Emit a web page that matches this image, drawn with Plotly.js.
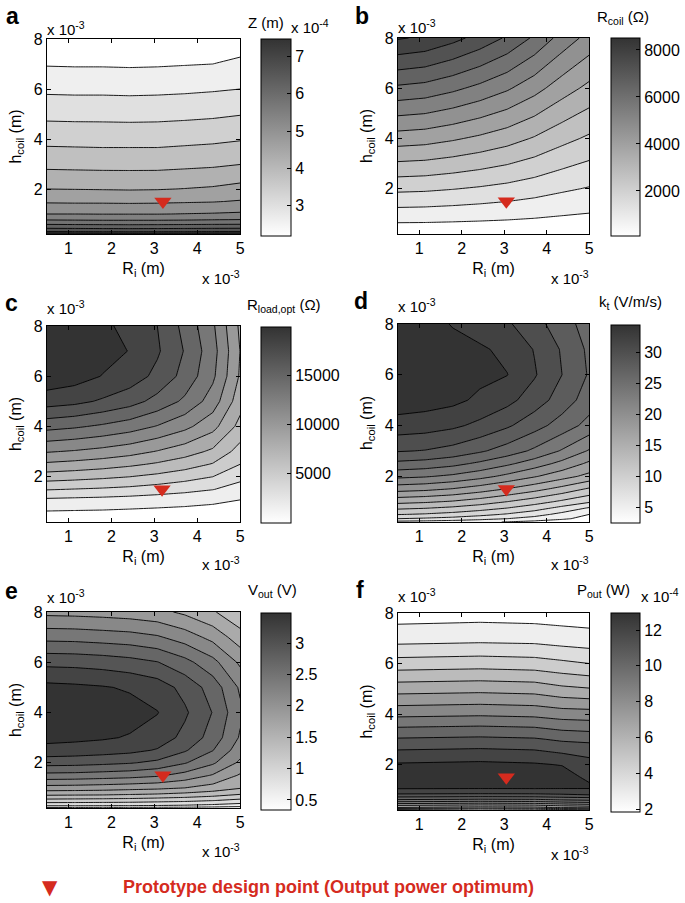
<!DOCTYPE html>
<html><head><meta charset="utf-8">
<script src="https://cdn.plot.ly/plotly-3.0.1.min.js"></script>
<style>html,body{margin:0;padding:0;background:#fff}#plot{width:685px;height:903px}</style>
</head><body><div id="plot"></div>
<script>
// ---------- data (Ri and h in units of 1e-3 m) ----------
const riGrid = [0.5, 1.14, 1.79, 2.43, 3.07, 3.71, 4.36, 5];
const riGridF = [0.5, 2.43, 3.71, 4.36, 5];

// a: Z (x 1e-4 m)
const hGridA = [0.2, 0.3, 0.5, 0.75, 1, 1.5, 2, 3, 4, 5, 6, 7, 8];
const zA = [
  [7.47,7.45,7.42,7.40,7.41,7.43,7.45,7.47],
  [6.77,6.75,6.73,6.72,6.73,6.74,6.76,6.77],
  [6.19,6.18,6.17,6.16,6.17,6.18,6.19,6.20],
  [5.62,5.61,5.60,5.60,5.60,5.61,5.63,5.64],
  [5.20,5.20,5.19,5.19,5.19,5.21,5.23,5.26],
  [4.75,4.74,4.74,4.73,4.74,4.76,4.78,4.83],
  [4.40,4.39,4.38,4.37,4.38,4.41,4.45,4.53],
  [3.89,3.88,3.87,3.87,3.87,3.90,3.93,3.99],
  [3.48,3.47,3.46,3.46,3.46,3.49,3.52,3.57],
  [3.09,3.08,3.08,3.07,3.08,3.10,3.13,3.18],
  [2.72,2.71,2.71,2.70,2.71,2.73,2.76,2.80],
  [2.37,2.36,2.36,2.35,2.36,2.38,2.40,2.45],
  [2.22,2.22,2.21,2.21,2.21,2.22,2.24,2.27]
];

// b: R_coil (Ohm)
const hGridB = [0.2, 2, 4, 6, 8];
const zB = [
  [170,170,165,160,155,150,140,135],
  [2095,2059,1974,1871,1749,1589,1401,1251],
  [4233,4159,3984,3771,3519,3189,2801,2491],
  [6371,6259,5994,5671,5289,4789,4201,3731],
  [8509,8359,8004,7571,7059,6389,5601,4971]
];

// c: R_load,opt (Ohm)
const hGridC = [0.2, 0.64, 1.14, 1.5, 2, 2.5, 3, 4, 5, 6, 7, 8];
const zC = [
  [100,95,90,85,80,80,80,80],
  [1510,1450,1400,1300,1200,1100,950,750],
  [3000,2900,2800,2650,2450,2250,2000,1600],
  [4600,4450,4300,4100,3800,3450,3050,2400],
  [6750,6550,6300,6000,5600,5100,4500,3400],
  [8740,8500,8200,7800,7300,6700,5900,4500],
  [10600,10350,10000,9550,8900,8150,7200,5400],
  [14000,13700,13250,12700,11900,10900,9500,7000],
  [17200,16900,16300,15600,14500,13200,11300,8100],
  [19000,18650,17950,17300,16100,14500,12300,8800],
  [19450,19150,18500,17950,16700,14900,12600,8950],
  [19300,19000,18400,17450,16500,14550,12250,8700]
];

// d: k_t (V/m/s)
const hGridD = [0.2, 0.33, 0.5, 0.75, 1, 1.5, 2, 2.5, 3, 4, 5, 6, 7, 8];
const zD = [
  [5.3,5.1,4.8,4.4,3.9,3.4,2.9,2.5],
  [8,7.7,7.3,6.7,6.0,5.2,4.3,3.4],
  [10.1,9.8,9.3,8.6,7.8,6.8,5.4,4.0],
  [12.4,12.1,11.6,10.9,10.0,8.9,7.4,5.8],
  [14.6,14.3,13.8,13.0,12.0,10.9,9.6,8.3],
  [18.8,18.5,17.9,17.0,15.9,14.7,13.3,11.7],
  [22.5,22.2,21.6,20.7,19.5,18.2,16.8,15.4],
  [25.5,25.2,24.6,23.6,22.4,21.0,19.4,17.6],
  [28.15,27.9,27.3,26.3,25.1,23.6,21.8,19.8],
  [31.1,30.9,30.4,29.5,28.3,26.8,25.1,23.3],
  [33.2,32.9,32.5,31.6,30.6,29.0,27.1,25.0],
  [34.3,34.0,33.2,32.5,32.05,30.2,28.0,25.8],
  [34.5,34.2,33.1,32.3,31.5,29.9,27.8,25.6],
  [34.0,33.3,31.8,31.0,30.3,28.7,27.0,25.0]
];

// e: V_out (V)
const hGridE = [0.2, 0.3, 0.5, 0.75, 1, 1.5, 2, 2.5, 3, 4, 5, 6, 7, 8];
const zE = [
  [0.42,0.42,0.41,0.41,0.40,0.39,0.37,0.34],
  [0.79,0.79,0.78,0.77,0.75,0.73,0.69,0.63],
  [1.16,1.15,1.14,1.13,1.10,1.07,1.01,0.93],
  [1.57,1.56,1.55,1.52,1.49,1.44,1.37,1.26],
  [1.90,1.89,1.87,1.84,1.81,1.75,1.65,1.52],
  [2.42,2.41,2.38,2.35,2.29,2.16,1.98,1.72],
  [2.85,2.84,2.81,2.77,2.69,2.52,2.29,1.95],
  [3.16,3.14,3.11,3.07,2.98,2.78,2.51,2.11],
  [3.33,3.31,3.28,3.23,3.14,2.93,2.65,2.22],
  [3.45,3.43,3.40,3.35,3.26,3.04,2.74,2.30],
  [3.32,3.30,3.27,3.22,3.13,2.92,2.64,2.21],
  [2.93,2.92,2.89,2.84,2.76,2.58,2.33,1.95],
  [2.42,2.41,2.38,2.35,2.28,2.13,1.92,1.61],
  [1.93,1.92,1.90,1.87,1.82,1.70,1.53,1.29]
];

// f: P_out (x 1e-4 W)
const hGridF = [0.2, 0.3, 0.4, 0.5, 0.6, 0.75, 0.9, 1.2, 1.5, 2, 2.5, 3, 3.5, 4, 5, 6, 7, 8];
const zF = [
  [3.6,3.2,3.4,3.7,3.9],
  [5.9,5.6,5.7,6.0,6.2],
  [7.0,6.8,6.9,7.2,7.4],
  [8.3,8.1,8.2,8.45,8.6],
  [9.4,9.25,9.3,9.5,9.65],
  [10.7,10.6,10.65,10.8,10.9],
  [11.75,11.7,11.72,11.8,12.1],
  [12.7,12.7,12.7,12.6,12.3],
  [12.9,12.95,12.9,12.7,11.95],
  [12.3,12.4,12.3,12.15,11.6],
  [11.45,11.55,11.45,11.2,11.05],
  [10.5,10.6,10.5,10.25,10.15],
  [9.45,9.55,9.45,9.2,9.1],
  [8.35,8.45,8.35,8.15,8.1],
  [6.4,6.5,6.4,6.1,5.95],
  [4.5,4.6,4.5,4.3,4.1],
  [2.8,2.9,2.85,2.7,2.6],
  [1.9,1.95,1.9,1.88,1.85]
];

// prototype design point per panel
const designRi = [3.2, 3.05, 3.18, 3.05, 3.2, 3.05];
const designH = [1.5, 1.5, 1.5, 1.5, 1.5, 1.5];

// colorbar ranges and ticks
const zRanges = [[2.19, 7.47], [85, 8510], [0, 19900], [2.5, 34.5], [0.34, 3.48], [1.85, 12.95]];
const cbTicks = [[3,4,5,6,7], [2000,4000,6000,8000], [5000,10000,15000], [5,10,15,20,25,30], [0.5,1,1.5,2,2.5,3], [2,4,6,8,10,12]];
const levels = [[2.4, 7.2, 0.4], [650, 8450, 650], [1500, 18000, 1500], [4, 32, 2], [0.5, 3.25, 0.25], [2.3, 12.2, 0.9]];
const xTicks = [1,2,3,4,5];
const yTicks = [2,4,6,8];

// ---------- layout geometry (pixels) ----------
const W = 685, H = 903;
const FONT = 'Liberation Sans, Arial, Helvetica, sans-serif';
const px = v => v / W, py = v => 1 - v / H;
const plotsPx = [
  [47, 241, 39, 234], [399, 591, 38, 234],
  [47, 241, 326, 522], [399, 591, 324, 522],
  [47, 241, 612, 808], [399, 591, 613, 810]
];
const cbPx = [
  [262, 39, 197, 30], [613, 38, 198, 29],
  [262, 327, 196, 30], [613, 325, 198, 29],
  [262, 613, 197, 30], [613, 613, 199, 29]
];
const cscale = [[0, '#ffffff'], [1, '#333333']];

const xs = [riGrid, riGrid, riGrid, riGrid, riGrid, riGridF];
const hs = [hGridA, hGridB, hGridC, hGridD, hGridE, hGridF];
const zs = [zA, zB, zC, zD, zE, zF];

const data = [];
const layout = {
  width: W, height: H, margin: {l: 0, r: 0, t: 0, b: 0},
  paper_bgcolor: '#fff', plot_bgcolor: '#fff', showlegend: false,
  font: {family: FONT, size: 16, color: '#000'},
  annotations: []
};

for (let i = 0; i < 6; i++) {
  const n = i === 0 ? '' : String(i + 1);
  const xa = 'x' + n, ya = 'y' + n;
  const [l, r, t, b] = plotsPx[i];
  const [cx, ct, clen, cth] = cbPx[i];
  // continuous colorbar (heatmap underneath)
  data.push({
    type: 'heatmap', x: xs[i], y: hs[i], z: zs[i], xaxis: xa, yaxis: ya,
    zmin: zRanges[i][0], zmax: zRanges[i][1], colorscale: cscale, hoverinfo: 'skip',
    showscale: true,
    colorbar: {
      x: px(cx), xanchor: 'left', y: py(ct), yanchor: 'top',
      len: clen, lenmode: 'pixels', thickness: cth, thicknessmode: 'pixels',
      xpad: 0, ypad: 0, outlinewidth: 1, outlinecolor: '#000',
      ticks: 'inside', ticklen: 4, tickcolor: '#000', tickwidth: 1,
      tickvals: cbTicks[i], ticktext: cbTicks[i].map(String),
      tickfont: {family: FONT, size: 16, color: '#000'}
    }
  });
  data.push({
    type: 'contour', x: xs[i], y: hs[i], z: zs[i], xaxis: xa, yaxis: ya,
    zmin: zRanges[i][0], zmax: zRanges[i][1], zauto: false, colorscale: cscale,
    showscale: false, hoverinfo: 'skip',
    autocontour: false,
    contours: {start: levels[i][0], end: levels[i][1], size: levels[i][2], coloring: 'fill', showlines: true},
    line: {color: '#000', width: 0.9, smoothing: 0}
  });
  data.push({
    type: 'scatter', mode: 'markers', x: [designRi[i]], y: [designH[i]], xaxis: xa, yaxis: ya,
    marker: {symbol: 'triangle-down', size: 15, color: '#d52b1e', line: {width: 0}},
    hoverinfo: 'skip', cliponaxis: false
  });
  layout['xaxis' + n] = {
    domain: [px(l), px(r)], anchor: ya, range: [0.5, 5], tickvals: xTicks,
    ticks: 'inside', ticklen: 4, tickcolor: '#000', showline: true, linecolor: '#000', linewidth: 1,
    mirror: 'ticks', showgrid: false, zeroline: false, fixedrange: true,
    tickfont: {family: FONT, size: 16, color: '#000'},
    title: {text: 'R<sub>i</sub> (m)', font: {family: FONT, size: 16, color: '#000'}, standoff: 6}
  };
  layout['yaxis' + n] = {
    domain: [py(b), py(t)], anchor: xa, range: [0.2, 8], tickvals: yTicks,
    ticks: 'inside', ticklen: 4, tickcolor: '#000', showline: true, linecolor: '#000', linewidth: 1,
    mirror: 'ticks', showgrid: false, zeroline: false, fixedrange: true,
    tickfont: {family: FONT, size: 16, color: '#000'},
    title: {text: 'h<sub>coil</sub> (m)', font: {family: FONT, size: 16, color: '#000'}, standoff: 8}
  };
}

function ann(text, x, y, opts) {
  layout.annotations.push(Object.assign({
    text: text, x: px(x), y: py(y), xref: 'paper', yref: 'paper',
    xanchor: 'left', yanchor: 'middle', showarrow: false,
    font: {family: FONT, size: 15, color: '#000'}
  }, opts || {}));
}

// panel letters
const letters = [['a', 4, 16], ['b', 354, 16], ['c', 3, 303], ['d', 353, 301], ['e', 3, 591], ['f', 355, 590]];
letters.forEach(([t, x, y]) => ann('<b>' + t + '</b>', x, y, {font: {family: FONT, size: 23, color: '#000'}}));

// exponent labels
const expTop = [[47, 28], [399, 27], [47, 308], [399, 305], [47, 596], [399, 595]];
expTop.forEach(([x, y]) => ann('x 10<sup>-3</sup>', x - 2, y));
const expBot = [[241, 278], [591, 277], [241, 563], [591, 563], [241, 850], [591, 853]];
expBot.forEach(([x, y]) => ann('x 10<sup>-3</sup>', x + 2, y, {xanchor: 'right'}));

// colorbar titles
ann('Z (m)', 247, 23);
ann('x 10<sup>-4</sup>', 290, 26);
ann('R<sub>coil</sub> (Ω)', 597, 17);
ann('R<sub>load,opt</sub> (Ω)', 246, 305);
ann('k<sub>t</sub> (V/m/s)', 599, 302);
ann('V<sub>out</sub> (V)', 247, 590);
ann('P<sub>out</sub> (W)', 577, 590);
ann('x 10<sup>-4</sup>', 641, 595);

// legend
ann('▼', 50, 887, {xanchor: 'center', font: {family: 'DejaVu Sans', size: 20, color: '#d52b1e'}});
ann('<b>Prototype design point (Output power optimum)</b>', 121, 887, {font: {family: FONT, size: 18, color: '#d52b1e'}});

Plotly.newPlot('plot', data, layout, {displayModeBar: false, staticPlot: true});
</script></body></html>
